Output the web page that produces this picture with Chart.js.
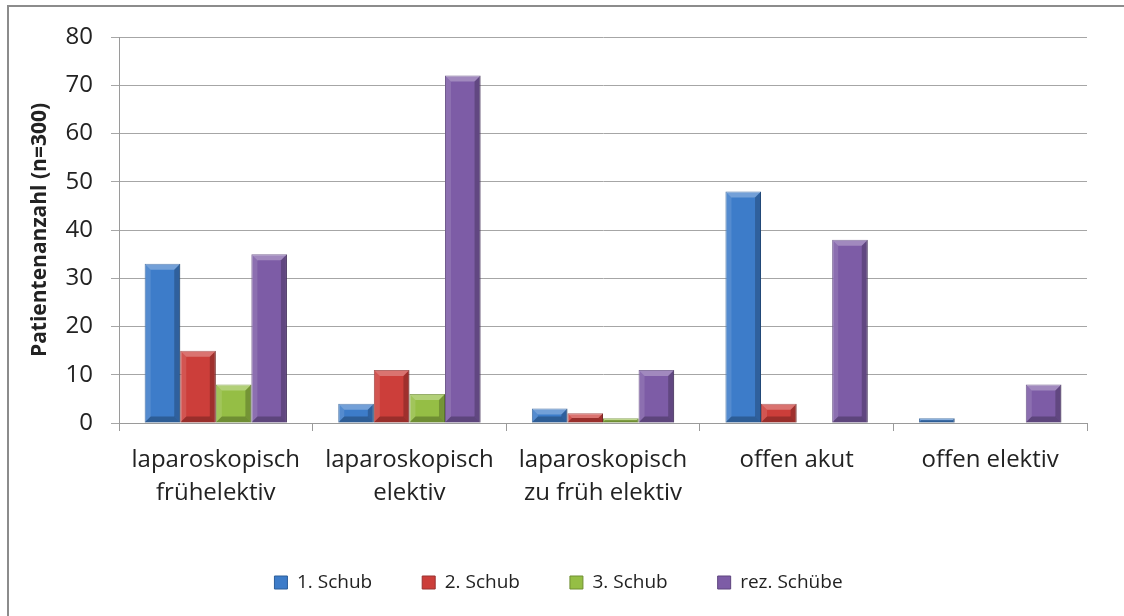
<!DOCTYPE html>
<html>
<head>
<meta charset="utf-8">
<script src="https://cdn.jsdelivr.net/npm/chart.js@4/dist/chart.umd.min.js"></script>
<style>
  html, body { margin: 0; padding: 0; background: #fff; }
  #rahmen { position: absolute; left: 7px; top: 5px; width: 1130px; height: 630px;
    border-left: 2px solid #8c8c8c; border-top: 2px solid #8c8c8c; box-sizing: border-box; }
  #wrap { position: absolute; left: 0; top: 0; width: 1124px; height: 616px; }
</style>
</head>
<body>
<div id="rahmen"></div>
<div id="wrap"><canvas id="chart"></canvas></div>
<script>
// ── Daten ─────────────────────────────────────────
const kategorien = [
  ['laparoskopisch', 'frühelektiv'],
  ['laparoskopisch', 'elektiv'],
  ['laparoskopisch', 'zu früh elektiv'],
  'offen akut',
  'offen elektiv'
];
const schub1   = [33, 4, 3, 48, 1];
const schub2   = [15, 11, 2, 4, 0];
const schub3   = [8, 6, 1, 0, 0];
const rezSchub = [35, 72, 11, 38, 8];
const yTicks   = [0, 10, 20, 30, 40, 50, 60, 70, 80];

const FONT = "'Open Sans', 'Liberation Sans', sans-serif";
const TXT = '#222';

// Excel-artiger Bevel-Effekt auf den Balken
const bevel = {
  id: 'bevel',
  afterDatasetsDraw(chart) {
    const c = chart.ctx;
    chart.data.datasets.forEach((ds, di) => {
      const meta = chart.getDatasetMeta(di);
      meta.data.forEach(bar => {
        const { x, y, base, width } = bar.getProps(['x', 'y', 'base', 'width'], true);
        const h = base - y;
        if (h <= 0.5) return;
        const l = x - width / 2, r = x + width / 2;
        const b = Math.min(6, h / 2, width / 4);
        c.save();
        // oben hell
        c.fillStyle = 'rgba(255,255,255,0.28)';
        c.beginPath(); c.moveTo(l, y); c.lineTo(r, y); c.lineTo(r - b, y + b); c.lineTo(l + b, y + b); c.closePath(); c.fill();
        // links hell
        c.fillStyle = 'rgba(255,255,255,0.12)';
        c.beginPath(); c.moveTo(l, y); c.lineTo(l + b, y + b); c.lineTo(l + b, base - b); c.lineTo(l, base); c.closePath(); c.fill();
        // rechts dunkel
        c.fillStyle = 'rgba(0,0,0,0.22)';
        c.beginPath(); c.moveTo(r, y); c.lineTo(r - b, y + b); c.lineTo(r - b, base - b); c.lineTo(r, base); c.closePath(); c.fill();
        // unten dunkel
        c.fillStyle = 'rgba(0,0,0,0.25)';
        c.beginPath(); c.moveTo(l, base); c.lineTo(l + b, base - b); c.lineTo(r - b, base - b); c.lineTo(r, base); c.closePath(); c.fill();
        c.restore();
      });
    });
  }
};

const mkSet = (label, data, bg, bd) => ({
  label, data, backgroundColor: bg, borderColor: bd, borderWidth: 1,
  categoryPercentage: 0.735, barPercentage: 1.0
});

new Chart(document.getElementById('chart'), {
  type: 'bar',
  data: {
    labels: kategorien,
    datasets: [
      mkSet('1. Schub', schub1, '#3d7cc9', '#2d5e99'),
      mkSet('2. Schub', schub2, '#cc3e3a', '#983230'),
      mkSet('3. Schub', schub3, '#95be45', '#6f8f33'),
      mkSet('rez. Schübe', rezSchub, '#7d5ca6', '#5e457e')
    ]
  },
  options: {
    responsive: true, maintainAspectRatio: false, animation: false,
    layout: { padding: { left: 30, top: 37, right: 37, bottom: 14 } },
    plugins: {
      tooltip: { enabled: false },
      legend: {
        position: 'bottom',
        labels: {
          color: TXT, font: { family: FONT, size: 19 },
          boxWidth: 13, boxHeight: 13, padding: 50
        }
      }
    },
    scales: {
      x: {
        grid: { drawOnChartArea: false, drawTicks: true, tickLength: 8, color: '#9a9a9a' },
        border: { color: '#9a9a9a' },
        ticks: { color: TXT, font: { family: FONT, size: 24, lineHeight: 1.4 }, padding: 12, maxRotation: 0, autoSkip: false },
        afterFit(s) { s.height = 100; }
      },
      y: {
        min: 0, max: 80,
        afterBuildTicks(s) { s.ticks = yTicks.map(v => ({ value: v })); },
        grid: { color: '#a6a6a6', tickLength: 8, lineWidth: 1 },
        border: { color: '#9a9a9a' },
        ticks: { color: TXT, font: { family: FONT, size: 24 }, padding: 18 },
        title: { display: true, text: 'Patientenanzahl (n=300)', color: TXT,
          font: { family: FONT, size: 21, weight: 'bold', lineHeight: 1.0 }, padding: { top: 0, bottom: 0 } },
        afterFit(s) { s.width = 89; }
      }
    }
  },
  plugins: [bevel]
});
</script>
</body>
</html>
